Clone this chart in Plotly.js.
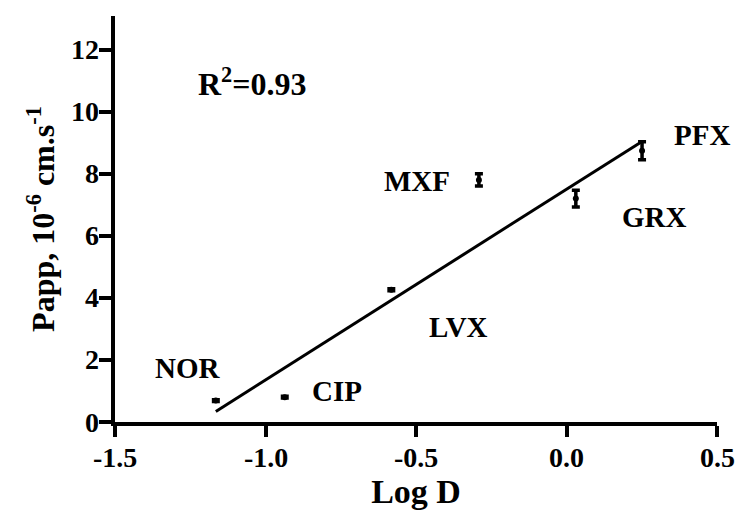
<!DOCTYPE html>
<html>
<head>
<meta charset="utf-8">
<script src="https://cdn.plot.ly/plotly-3.0.1.min.js"></script>
<style>
  html, body { margin: 0; padding: 0; background: #ffffff; }
  #chart { width: 739px; height: 513px; }
</style>
</head>
<body>
<div id="chart"></div>
<script>
// ---- data ----
const drugs  = ['NOR', 'CIP', 'LVX', 'MXF', 'GRX', 'PFX'];
const logD   = [-1.165, -0.936, -0.582, -0.291, 0.031, 0.251];
const papp   = [0.69, 0.80, 4.26, 7.80, 7.20, 8.74];
const pappSD = [0.03, 0.03, 0.03, 0.20, 0.27, 0.29];

// regression line end points (as drawn)
const fitX = [-1.165, 0.251];
const fitY = [0.34, 9.04];
const rSquared = '0.93';

const xTicks = [-1.5, -1.0, -0.5, 0.0, 0.5];
const xTickText = ['-1.5', '-1.0', '-0.5', '0.0', '0.5'];
const yTicks = [0, 2, 4, 6, 8, 10, 12];
const yTickText = ['0', '2', '4', '6', '8', '10', '12'];

// label pixel offsets from each point (style/layout, not data)
const labelShift = {
  NOR: [-28, 33], CIP: [52, 6], LVX: [67, -37],
  MXF: [-62, -1], GRX: [79, -18], PFX: [60, 16]
};

const bfont = (size) => ({ family: 'Liberation Serif', size: size, color: '#000', weight: 700 });

const traces = [
  {
    x: fitX, y: fitY, mode: 'lines', type: 'scatter',
    line: { color: '#000', width: 3 }, hoverinfo: 'skip', showlegend: false
  },
  {
    x: logD, y: papp, mode: 'markers', type: 'scatter',
    marker: { color: '#000', size: 6 },
    error_y: { type: 'data', array: pappSD, visible: true, color: '#000', thickness: 3.5, width: 4 },
    showlegend: false
  }
];

const annotations = drugs.map((d, i) => ({
  x: logD[i], y: papp[i], xref: 'x', yref: 'y',
  text: d, showarrow: false,
  xanchor: 'center', yanchor: 'middle',
  xshift: labelShift[d][0], yshift: labelShift[d][1],
  font: bfont(29)
}));
annotations.push({
  x: -1.043, y: 10.94, xref: 'x', yref: 'y',
  text: 'R<sup>2</sup>=' + rSquared, showarrow: false,
  xanchor: 'center', yanchor: 'middle',
  font: bfont(32)
});
// bold tick labels, placed at the axis tick values
xTicks.forEach((v, i) => annotations.push({
  x: v, y: 0, xref: 'x', yref: 'paper', text: xTickText[i], showarrow: false,
  xanchor: 'center', yanchor: 'middle', yshift: -35, font: bfont(28)
}));
yTicks.forEach((v, i) => annotations.push({
  x: 0, y: v, xref: 'paper', yref: 'y', text: yTickText[i], showarrow: false,
  xanchor: 'right', yanchor: 'middle', xshift: -14, font: bfont(28)
}));

const layout = {
  width: 739, height: 513,
  margin: { l: 115, r: 22, t: 16, b: 91 },
  font: bfont(28),
  paper_bgcolor: '#fff', plot_bgcolor: '#fff',
  showlegend: false,
  xaxis: {
    range: [-1.5, 0.5], tickmode: 'array', tickvals: xTicks, ticktext: xTickText,
    showticklabels: false,
    showgrid: false, zeroline: false,
    showline: true, linecolor: '#000', linewidth: 4,
    ticks: 'outside', ticklen: 11, tickwidth: 4, tickcolor: '#000',
    title: { text: 'Log D', font: bfont(34) }
  },
  yaxis: {
    range: [0, 13.08], tickmode: 'array', tickvals: yTicks, ticktext: yTickText,
    showticklabels: false,
    showgrid: false, zeroline: false,
    showline: true, linecolor: '#000', linewidth: 4,
    ticks: 'outside', ticklen: 12, tickwidth: 4, tickcolor: '#000',
    title: { text: 'Papp, 10<sup>-6</sup> cm.s<sup>-1</sup>', font: bfont(32) }
  },
  annotations: annotations
};

Plotly.newPlot('chart', traces, layout, { staticPlot: true, displayModeBar: false });
</script>
</body>
</html>
